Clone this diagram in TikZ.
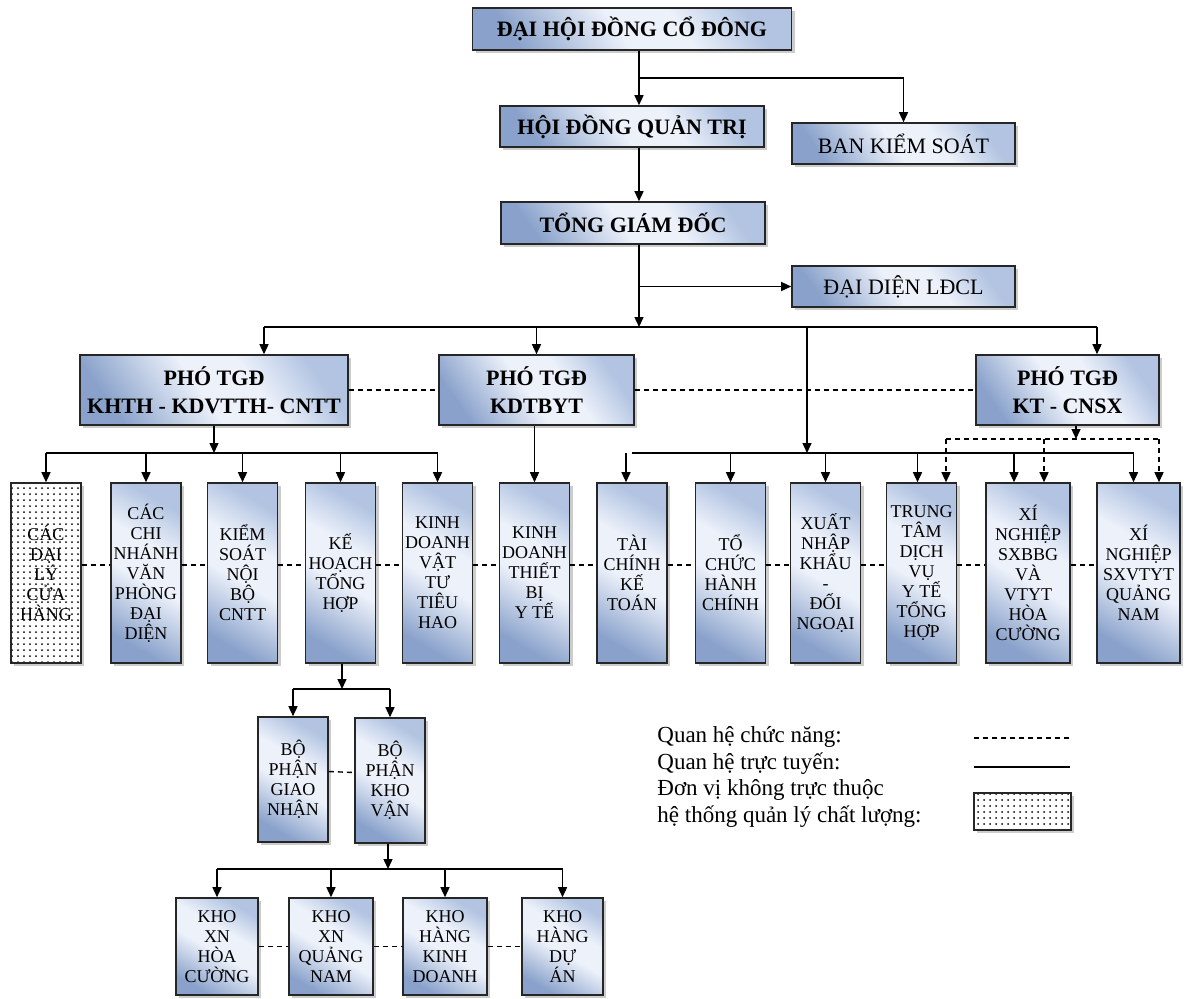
\documentclass[tikz,border=0pt]{standalone}
\usepackage{fontspec}
\setmainfont{Liberation Serif}
\usetikzlibrary{arrows.meta,shadows,patterns}
\definecolor{boxdark}{RGB}{138,162,203}
\definecolor{boxlight}{RGB}{236,241,250}
\definecolor{boxmid}{RGB}{178,196,226}
\pgfdeclarehorizontalshading{boxshade}{100bp}{color(0bp)=(boxdark); color(25bp)=(boxdark);
  color(47bp)=(boxlight); color(60bp)=(boxlight); color(75bp)=(boxmid); color(100bp)=(boxmid)}
\tikzset{
  hbox/.style={draw=black!85, line width=0.8pt, shading=boxshade, shading angle=35,
    drop shadow={shadow xshift=1.5pt, shadow yshift=-1.5pt, fill=black!40},
    align=center, inner sep=0pt, font=\bfseries\fontsize{11}{14}\selectfont},
  sbox/.style={hbox, font=\fontsize{11}{14}\selectfont},
  ubox/.style={hbox, shading angle=60, font=\fontsize{9}{10}\selectfont, minimum width=35pt, minimum height=90pt},
  dbox/.style={draw=black!85, line width=0.8pt,
    drop shadow={shadow xshift=1.5pt, shadow yshift=-1.5pt, fill=black!40},
    preaction={fill=white}, pattern=dots, align=center, inner sep=0pt},
  ln/.style={line width=0.7pt},
  arr/.style={ln, -{Triangle[length=5pt,width=4.5pt]}},
  dsh/.style={ln, dash pattern=on 2.5pt off 2pt}
}
\begin{document}
\begin{tikzpicture}[x=0.5pt, y=-0.5pt]
\useasboundingbox (0,0) rectangle (1186,998);

% upper levels
\node[hbox, minimum width=159.5pt, minimum height=21pt] (dhcd) at (632,29) {ĐẠI HỘI ĐỒNG CỔ ĐÔNG};
\node[hbox, minimum width=132pt, minimum height=20.5pt] (hdqt) at (632,126.5) {HỘI ĐỒNG QUẢN TRỊ};
\node[sbox, minimum width=111.5pt, minimum height=20.5pt] (bks) at (903.5,143.5) {BAN KIỂM SOÁT};
\node[hbox, minimum width=132pt, minimum height=21pt] (tgd) at (633,223) {TỔNG GIÁM ĐỐC};
\node[sbox, minimum width=111.5pt, minimum height=20.5pt] (ldcl) at (903.5,286.5) {ĐẠI DIỆN LĐCL};

% deputies
\node[hbox, minimum width=134pt, minimum height=35pt] (pho1) at (214,390) {PHÓ TGĐ\\KHTH - KDVTTH- CNTT};
\node[hbox, minimum width=97.5pt, minimum height=35pt] (pho2) at (536.5,390) {PHÓ TGĐ\\KDTBYT};
\node[hbox, minimum width=91.5pt, minimum height=35pt] (pho3) at (1067.5,390) {PHÓ TGĐ\\KT - CNSX};

% departments
\node[dbox, font=\fontsize{9}{10}\selectfont, minimum width=35pt, minimum height=90pt] (dl) at (46,573) {CÁC\\ĐẠI\\LÝ\\CỬA\\HÀNG};
\node[ubox] (cn) at (146,573) {CÁC\\CHI\\NHÁNH\\VĂN\\PHÒNG\\ĐẠI\\DIỆN};
\node[ubox] (ks) at (242.5,573) {KIỂM\\SOÁT\\NỘI\\BỘ\\CNTT};
\node[ubox] (kh) at (340.5,573) {KẾ\\HOẠCH\\TỔNG\\HỢP};
\node[ubox] (kd) at (437.5,573) {KINH\\DOANH\\VẬT\\TƯ\\TIÊU\\HAO};
\node[ubox] (tb) at (534.5,573) {KINH\\DOANH\\THIẾT\\BỊ\\Y TẾ};
\node[ubox] (tc) at (632,573) {TÀI\\CHÍNH\\KẾ\\TOÁN};
\node[ubox] (tchc) at (730.5,573) {TỔ\\CHỨC\\HÀNH\\CHÍNH};
\node[ubox] (xnk) at (825.5,573) {XUẤT\\NHẬP\\KHẨU\\-\\ĐỐI\\NGOẠI};
\node[ubox] (tt) at (921.5,573) {TRUNG\\TÂM\\DỊCH\\VỤ\\Y TẾ\\TỔNG\\HỢP};
\node[ubox, minimum width=42pt] (xn1) at (1028,573) {XÍ\\NGHIỆP\\SXBBG\\VÀ\\VTYT\\HÒA\\CƯỜNG};
\node[ubox, minimum width=41.5pt] (xn2) at (1138.5,573) {XÍ\\NGHIỆP\\SXVTYT\\QUẢNG\\NAM};

% sections
\node[ubox, minimum height=62.5pt] (bp1) at (293,779.5) {BỘ\\PHẬN\\GIAO\\NHẬN};
\node[ubox, minimum height=62.5pt] (bp2) at (390,780.5) {BỘ\\PHẬN\\KHO\\VẬN};

% warehouses
\node[ubox, minimum width=41pt, minimum height=48.5pt] (kho1) at (217,946.5) {KHO\\XN\\HÒA\\CƯỜNG};
\node[ubox, minimum width=42pt, minimum height=48.5pt] (kho2) at (331,946.5) {KHO\\XN\\QUẢNG\\NAM};
\node[ubox, minimum width=42pt, minimum height=48.5pt] (kho3) at (445,946.5) {KHO\\HÀNG\\KINH\\DOANH};
\node[ubox, minimum width=40.5pt, minimum height=48.5pt] (kho4) at (562.5,946.5) {KHO\\HÀNG\\DỰ\\ÁN};

% trunk
\coordinate (j1) at (639,78);
\coordinate (j2) at (639,286.5);
\coordinate (j3) at (639,327);
\draw[arr] (dhcd.south -| j1) -- (hdqt.north -| j1);
\draw[arr] (j1) -| (bks.north);
\draw[arr] (hdqt.south -| j1) -- (tgd.north -| j1);
\draw[arr] (tgd.south -| j1) -- (j3);
\draw[arr] (j2) -- (ldcl.west);

% bus to deputies
\coordinate (b1) at (264,327);
\coordinate (b2) at (1097,327);
\coordinate (j4) at (807,453);
\draw[ln] (b1) -- (b2);
\draw[arr] (b1) -- (b1 |- pho1.north);
\draw[arr] (pho2.north |- b1) -- (pho2.north);
\draw[arr] (b2) -- (b2 |- pho3.north);
\draw[arr] (j4 |- b1) -- (j4);
\draw[dsh] (pho1.east) -- (pho2.west);
\draw[dsh] (pho2.east) -- (pho3.west);

% left group
\coordinate (j5) at (214,453);
\draw[arr] (pho1.south) -- (j5);
\draw[ln] (dl.north |- j5) -- (kd.north |- j5);
\foreach \u in {dl,cn,ks,kh,kd}
  \draw[arr] (\u.north |- j5) -- (\u.north);
\draw[arr] (pho2.south -| tb.north) -- (tb.north);

% right group
\draw[ln] (tc.north |- j4) -- ([xshift=-2.5pt]xn2.north |- j4);
\foreach \u/\s in {tc/-3,tchc/0,xnk/0,tt/-2,xn1/-7,xn2/-2.5}
  \draw[arr] ([xshift=\s pt]\u.north |- j4) -- ([xshift=\s pt]\u.north);

% functional links from KT - CNSX
\coordinate (j6) at (1076,439);
\draw[dsh, -{Triangle[length=5pt,width=4.5pt]}] (pho3.south -| j6) -- (j6);
\draw[dsh] ([xshift=12.25pt]tt.north |- j6) -- ([xshift=10.25pt]xn2.north |- j6);
\foreach \u/\s in {tt/12.25,xn1/8,xn2/10.25}
  \draw[dsh, -{Triangle[length=5pt,width=4.5pt]}] ([xshift=\s pt]\u.north |- j6) -- ([xshift=\s pt]\u.north);

% dashed ties between departments
\foreach \a/\b in {dl/cn,cn/ks,ks/kh,kh/kd,kd/tb,tb/tc,tc/tchc,tchc/xnk,xnk/tt,tt/xn1,xn1/xn2}
  \draw[dsh] ([yshift=4pt]\a.east) -- ([yshift=4pt]\b.west);

% under ke hoach
\coordinate (j7) at (342,689);
\draw[arr] (kh.south -| j7) -- (j7);
\draw[ln] (bp1.north |- j7) -- (bp2.north |- j7);
\draw[arr] (bp1.north |- j7) -- (bp1.north);
\draw[arr] (bp2.north |- j7) -- (bp2.north);
\draw[dsh] ([yshift=4pt]bp1.east) -- ([yshift=4pt]bp2.east -| bp2.west);

\coordinate (j8) at (388,869);
\draw[arr] (bp2.south -| j8) -- (j8);
\draw[ln] (kho1.north |- j8) -- (kho4.north |- j8);
\foreach \u in {kho1,kho2,kho3,kho4}
  \draw[arr] (\u.north |- j8) -- (\u.north);
\draw[dsh] (kho1.east) -- (kho2.west);
\draw[dsh] (kho2.east) -- (kho3.west);
\draw[dsh] (kho3.east) -- (kho4.west);

% legend
\node[anchor=west, align=left, inner sep=0pt, font=\fontsize{11.5}{13.4}\selectfont] (leg) at (657,777)
  {Quan hệ chức năng:\\Quan hệ trực tuyến:\\Đơn vị không trực thuộc\\hệ thống quản lý chất lượng:};
\coordinate (ld1) at (974,738);
\coordinate (ld2) at (1072,738);
\coordinate (ls1) at (974,767);
\coordinate (ls2) at (1070,767);
\draw[dsh, line width=0.6pt] (ld1) -- (ld2);
\draw[ln] (ls1) -- (ls2);
\node[dbox, minimum width=48.5pt, minimum height=18.5pt] (legbox) at (1022.5,811.5) {};
\end{tikzpicture}
\end{document}
